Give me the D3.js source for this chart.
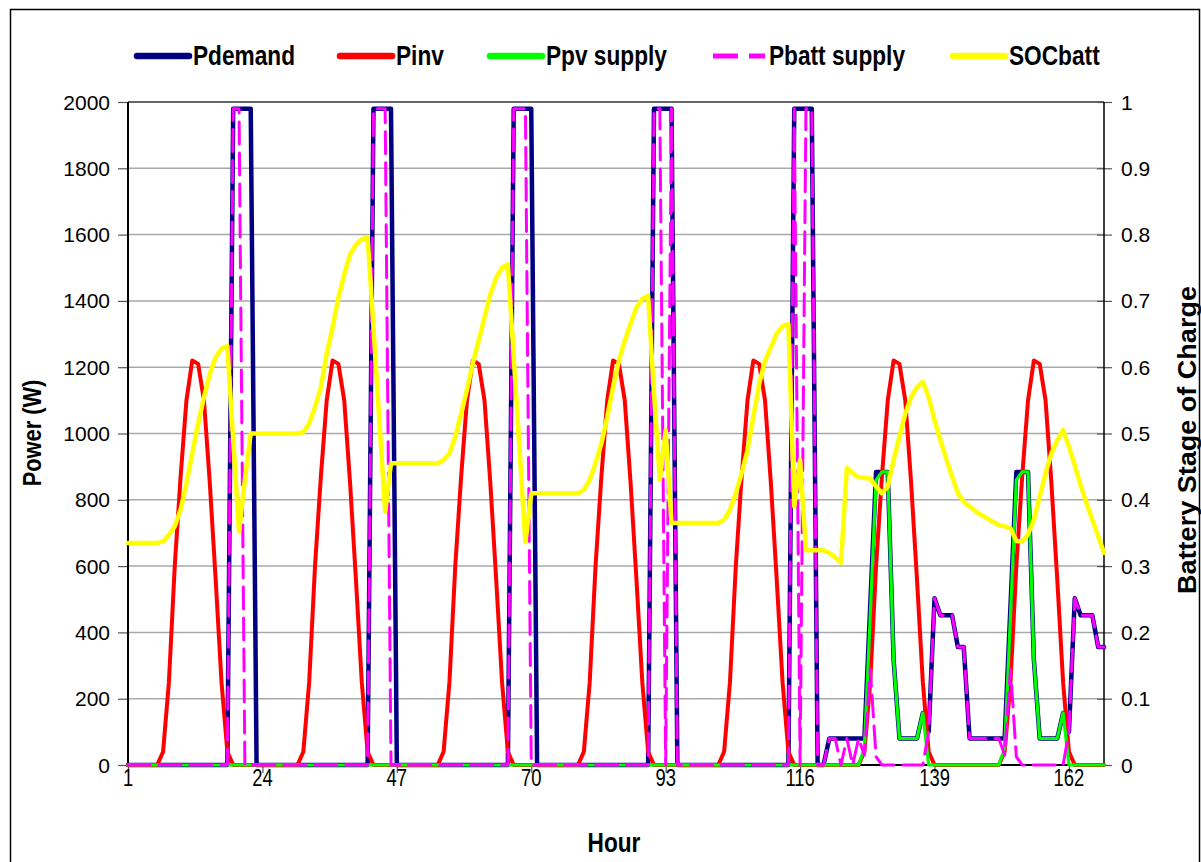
<!DOCTYPE html>
<html><head><meta charset="utf-8">
<script src="https://cdn.jsdelivr.net/npm/d3@7"></script>
<style>body{margin:0;background:#fff}</style>
</head><body>
<svg id="c" width="1201" height="862"></svg>
<script>
// ---------------- DATA ----------------
const hours = d3.range(1, 169);
const xTickLabels = [1, 24, 47, 70, 93, 116, 139, 162];
const yLeftTicks = [0, 200, 400, 600, 800, 1000, 1200, 1400, 1600, 1800, 2000];
const yRightTicks = [0, 0.1, 0.2, 0.3, 0.4, 0.5, 0.6, 0.7, 0.8, 0.9, 1];
const seriesNames = ["Pdemand", "Pinv", "Ppv supply", "Pbatt supply", "SOCbatt"];

const pdemand = [
  0,0,0,0,0,0,0,0,0,0,0,0,0,0,0,0,0,0,1980,1980,1980,1980,0,0,
  0,0,0,0,0,0,0,0,0,0,0,0,0,0,0,0,0,0,1980,1980,1980,1980,0,0,
  0,0,0,0,0,0,0,0,0,0,0,0,0,0,0,0,0,0,1980,1980,1980,1980,0,0,
  0,0,0,0,0,0,0,0,0,0,0,0,0,0,0,0,0,0,1980,1980,1980,1980,0,0,
  0,0,0,0,0,0,0,0,0,0,0,0,0,0,0,0,0,0,1980,1980,1980,1980,0,0,
  80,80,80,80,80,80,80,480,884,884,884,317,80,80,80,80,157,100,503,452,452,452,356,356,
  80,80,80,80,80,80,80,480,884,884,884,317,80,80,80,80,157,100,503,452,452,452,356,356
];
const pinv = [
  0,0,0,0,0,0,40,250,600,870,1100,1220,1210,1100,850,560,250,40,0,0,0,0,0,0,
  0,0,0,0,0,0,40,250,600,870,1100,1220,1210,1100,850,560,250,40,0,0,0,0,0,0,
  0,0,0,0,0,0,40,250,600,870,1100,1220,1210,1100,850,560,250,40,0,0,0,0,0,0,
  0,0,0,0,0,0,40,250,600,870,1100,1220,1210,1100,850,560,250,40,0,0,0,0,0,0,
  0,0,0,0,0,0,40,250,600,870,1100,1220,1210,1100,850,560,250,40,0,0,0,0,0,0,
  0,0,0,0,0,0,40,250,600,870,1100,1220,1210,1100,850,560,250,40,0,0,0,0,0,0,
  0,0,0,0,0,0,40,250,600,870,1100,1220,1210,1100,850,560,250,40,0,0,0,0,0,0
];
const ppv = [
  0,0,0,0,0,0,0,0,0,0,0,0,0,0,0,0,0,0,0,0,0,0,0,0,
  0,0,0,0,0,0,0,0,0,0,0,0,0,0,0,0,0,0,0,0,0,0,0,0,
  0,0,0,0,0,0,0,0,0,0,0,0,0,0,0,0,0,0,0,0,0,0,0,0,
  0,0,0,0,0,0,0,0,0,0,0,0,0,0,0,0,0,0,0,0,0,0,0,0,
  0,0,0,0,0,0,0,0,0,0,0,0,0,0,0,0,0,0,0,0,0,0,0,0,
  0,0,0,0,0,0,50,450,860,884,884,317,80,80,80,80,157,0,0,0,0,0,0,0,
  0,0,0,0,0,0,50,450,860,884,884,317,80,80,80,80,157,0,0,0,0,0,0,0
];
const pbatt = [
  0,0,0,0,0,0,0,0,0,0,0,0,0,0,0,0,0,0,1980,1980,0,0,0,0,
  0,0,0,0,0,0,0,0,0,0,0,0,0,0,0,0,0,0,1980,1980,1980,0,0,0,
  0,0,0,0,0,0,0,0,0,0,0,0,0,0,0,0,0,0,1980,1980,1980,0,0,0,
  0,0,0,0,0,0,0,0,0,0,0,0,0,0,0,0,0,0,1980,1980,0,1980,0,0,
  0,0,0,0,0,0,0,0,0,0,0,0,0,0,0,0,0,0,1980,0,1980,1980,0,0,
  80,80,0,80,0,80,30,290,25,0,0,0,0,0,0,0,0,100,503,452,452,452,356,356,
  80,80,80,80,80,80,30,290,25,0,0,0,0,0,0,0,0,100,503,452,452,452,356,356
];
const socbatt = [
  0.335,0.335,0.335,0.335,0.335,0.335,0.337,0.347,0.36,0.385,0.425,0.47,0.515,0.555,0.59,0.615,0.628,0.632,0.49,0.352,0.43,0.5,0.5,0.5,
  0.5,0.5,0.5,0.5,0.5,0.5,0.502,0.515,0.54,0.57,0.62,0.66,0.705,0.74,0.77,0.785,0.793,0.796,0.66,0.52,0.382,0.455,0.455,0.455,
  0.455,0.455,0.455,0.455,0.455,0.455,0.46,0.47,0.495,0.53,0.566,0.606,0.64,0.675,0.71,0.735,0.75,0.755,0.615,0.475,0.336,0.41,0.41,0.41,
  0.41,0.41,0.41,0.41,0.41,0.41,0.415,0.43,0.455,0.485,0.525,0.57,0.61,0.64,0.666,0.69,0.703,0.708,0.56,0.43,0.505,0.365,0.365,0.365,
  0.365,0.365,0.365,0.365,0.365,0.365,0.37,0.385,0.41,0.44,0.475,0.525,0.575,0.61,0.63,0.651,0.662,0.665,0.39,0.46,0.324,0.324,0.324,0.324,
  0.32,0.313,0.305,0.448,0.44,0.434,0.433,0.432,0.42,0.41,0.42,0.46,0.495,0.53,0.555,0.57,0.578,0.555,0.52,0.49,0.462,0.435,0.41,0.397,
  0.39,0.383,0.377,0.372,0.367,0.362,0.36,0.357,0.338,0.337,0.348,0.37,0.405,0.44,0.47,0.49,0.505,0.48,0.452,0.422,0.395,0.37,0.345,0.32
];

// ---------------- LAYOUT ----------------
const L = 128, R = 1104, T = 102, B = 765;
const svg = d3.select('#c');

function measure(fam, str) {
  const t = svg.append('text').attr('font-family', fam).attr('font-weight', 'bold')
    .attr('font-size', 20).text(str);
  const w = t.node().getComputedTextLength(); t.remove(); return w;
}
const REG = "'Liberation Sans', Arial, sans-serif";
const NAR = "'Liberation Sans Narrow', 'Arial Narrow', 'Liberation Sans', Arial, sans-serif";
const hasNarrow = measure(NAR, 'Pdemand Ppv supply') < measure(REG, 'Pdemand Ppv supply') * 0.92;

function addText(parent, o) {
  const narrow = !!o.narrow;
  let tr = `translate(${o.x},${o.y})`;
  if (o.rot) tr += ` rotate(${o.rot})`;
  if (narrow && !hasNarrow) tr += ` scale(${o.sx || 0.84},1)`;
  const g = parent.append('g').attr('transform', tr);
  g.append('text')
    .attr('font-family', narrow && hasNarrow ? NAR : REG)
    .attr('font-weight', o.weight || 'normal')
    .attr('font-size', o.size)
    .attr('text-anchor', o.anchor || 'start')
    .attr('fill', '#000')
    .text(o.text);
  return g;
}

// outer border
svg.append('rect').attr('x', 10.5).attr('y', 9.5).attr('width', 1189).attr('height', 870)
  .attr('fill', 'none').attr('stroke', '#000').attr('stroke-width', 1.5);

const x = d3.scaleLinear().domain([1, 168]).range([L, R]);
const yL = d3.scaleLinear().domain([0, 2000]).range([B, T]);
const yR = d3.scaleLinear().domain([0, 1]).range([B, T]);

// gridlines
svg.append('g').selectAll('line').data(yLeftTicks.filter(d => d > 0 && d < 2000)).join('line')
  .attr('x1', L).attr('x2', R).attr('y1', d => yL(d)).attr('y2', d => yL(d))
  .attr('stroke', '#a9a9a9').attr('stroke-width', 1.5);
svg.append('line').attr('x1', L).attr('x2', R).attr('y1', yL(2000)).attr('y2', yL(2000))
  .attr('stroke', '#333').attr('stroke-width', 1.5);

// left axis
const axL = svg.append('g').attr('transform', `translate(${L},0)`)
  .call(d3.axisLeft(yL).tickValues(yLeftTicks).tickSize(10).tickFormat(''));
axL.select('.domain').remove();
axL.selectAll('line').attr('stroke', '#555').attr('stroke-width', 1.2);
svg.append('line').attr('x1', L).attr('x2', L).attr('y1', T).attr('y2', B + 1)
  .attr('stroke', '#000').attr('stroke-width', 2);
yLeftTicks.forEach(v => addText(svg, { x: 110, y: yL(v) + 7.5, text: String(v), size: 21, anchor: 'end' }));

// right axis
const axR = svg.append('g').attr('transform', `translate(${R},0)`)
  .call(d3.axisRight(yR).tickValues(yRightTicks).tickSize(8).tickFormat(''));
axR.select('.domain').remove();
axR.selectAll('line').attr('stroke', '#555').attr('stroke-width', 1.2).attr('x1', -7);
svg.append('line').attr('x1', R).attr('x2', R).attr('y1', T).attr('y2', B)
  .attr('stroke', '#000').attr('stroke-width', 1.5);
yRightTicks.forEach(v => addText(svg, { x: 1121, y: yR(v) + 7.5, text: String(v), size: 21 }));

// bottom axis
const axB = svg.append('g').attr('transform', `translate(0,${B})`)
  .call(d3.axisBottom(x).tickValues(xTickLabels).tickSize(8).tickFormat(''));
axB.select('.domain').remove();
axB.selectAll('line').attr('stroke', '#555').attr('stroke-width', 1.2);
svg.append('line').attr('x1', L).attr('x2', R).attr('y1', B).attr('y2', B)
  .attr('stroke', '#000').attr('stroke-width', 2);
xTickLabels.forEach(v => addText(svg, { x: x(v), y: 786, text: String(v), size: 23, anchor: 'middle', narrow: true, sx: 0.8 }));

// axis titles
addText(svg, { x: 614, y: 852, text: 'Hour', size: 27, weight: 'bold', anchor: 'middle', narrow: true });
addText(svg, { x: 41, y: 433, rot: -90, text: 'Power (W)', size: 26, weight: 'bold', anchor: 'middle', narrow: true });
addText(svg, { x: 1196, y: 440, rot: -90, text: 'Battery Stage of Charge', size: 26, weight: 'bold', anchor: 'middle', narrow: true, sx: 1.04 });

// series
const mk = (arr, ys) => d3.line().x((d, i) => x(hours[i])).y(d => ys(d))(arr);
const plot = svg.append('g');
const styles = [
  { data: pdemand, ys: yL, color: '#000080', w: 4.5, dash: null },
  { data: pinv, ys: yL, color: '#ff0000', w: 4, dash: null },
  { data: ppv, ys: yL, color: '#00ff00', w: 3.2, dash: null },
  { data: pbatt, ys: yL, color: '#ff00ff', w: 3, dash: '22,9' },
  { data: socbatt, ys: yR, color: '#ffff00', w: 4.5, dash: null }
];
styles.forEach(s => {
  plot.append('path').attr('d', mk(s.data, s.ys)).attr('fill', 'none')
    .attr('stroke', s.color).attr('stroke-width', s.w)
    .attr('stroke-linejoin', 'round').attr('stroke-linecap', 'round')
    .attr('stroke-dasharray', s.dash);
});

// legend
const legX = [137, 340, 490, 713, 953];
const leg = svg.append('g');
styles.forEach((s, i) => {
  leg.append('line').attr('x1', legX[i]).attr('x2', legX[i] + 52).attr('y1', 56).attr('y2', 56)
    .attr('stroke', s.color).attr('stroke-width', s.dash ? 5 : 6.5)
    .attr('stroke-dasharray', s.dash ? '25,11' : null)
    .attr('stroke-linecap', s.dash ? 'butt' : 'round');
  addText(leg, { x: legX[i] + 56, y: 65, text: seriesNames[i], size: 27, weight: 'bold', narrow: true });
});
</script>
</body></html>
